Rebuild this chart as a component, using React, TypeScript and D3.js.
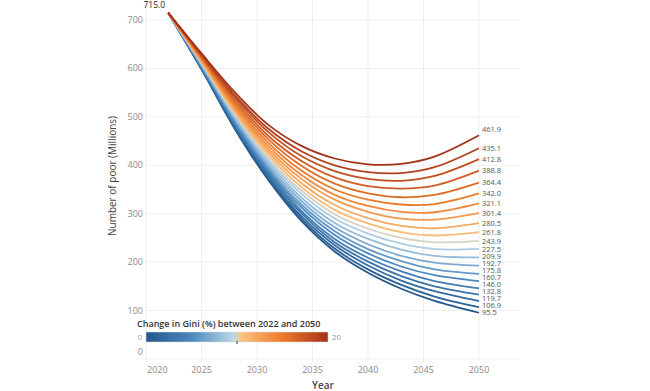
import React from 'react'
import * as d3 from 'd3'

// years, values in millions of poor people
const years = [2022, 2025, 2028, 2031, 2034, 2037, 2040, 2043, 2046, 2050]
const giniChange = [0, 1, 2, 3, 4, 5, 6, 7, 8, 9, 10, 11, 12, 13, 14, 15, 16, 17, 18, 19, 20]

const g00 = [715, 598, 475, 370, 285, 222, 178, 145, 120, 95.5]
const g01 = [715, 599, 477, 374, 290, 228, 185, 153, 129, 106.9]
const g02 = [715, 600, 480, 378, 295, 235, 193, 162, 140, 119.7]
const g03 = [715, 602, 483, 382, 301, 241, 201, 171, 150, 132.8]
const g04 = [715, 603, 485, 386, 306, 248, 209, 181, 161, 146.0]
const g05 = [715, 604, 489, 390, 313, 256, 218, 191, 173, 160.7]
const g06 = [715, 605, 492, 395, 319, 264, 227, 202, 185, 175.8]
const g07 = [715, 607, 495, 400, 326, 272, 237, 213, 199, 192.7]
const g08 = [715, 609, 499, 406, 333, 281, 248, 226, 213, 209.9]
const g09 = [715, 610, 502, 411, 341, 290, 259, 238, 227, 227.5]
const g10 = [715, 612, 506, 416, 348, 299, 269, 250, 241, 243.9]
const g11 = [715, 613, 509, 422, 355, 308, 280, 262, 255, 261.8]
const g12 = [715, 615, 513, 428, 363, 318, 291, 275, 270, 280.5]
const g13 = [715, 617, 518, 434, 372, 329, 304, 290, 288, 301.4]
const g14 = [715, 619, 522, 440, 380, 339, 316, 304, 303, 321.1]
const g15 = [715, 621, 526, 447, 389, 350, 329, 319, 320, 342.0]
const g16 = [715, 623, 531, 454, 399, 362, 342, 334, 339, 364.4]
const g17 = [715, 625, 536, 461, 409, 375, 357, 352, 358, 388.8]
const g18 = [715, 627, 541, 469, 419, 388, 372, 368, 378, 412.8]
const g19 = [715, 629, 545, 476, 429, 400, 386, 384, 396, 435.1]
const g20 = [715, 631, 551, 484, 440, 414, 402, 403, 418, 461.9]

const seriesValues = [g00, g01, g02, g03, g04, g05, g06, g07, g08, g09, g10,
  g11, g12, g13, g14, g15, g16, g17, g18, g19, g20]

const xTicks = [2020, 2025, 2030, 2035, 2040, 2045, 2050]
const yTicks = [0, 100, 200, 300, 400, 500, 600, 700]

const font = '"Open Sans", "Noto Sans", sans-serif'

export default function App() {
  const width = 650, height = 391

  const x = d3.scaleLinear().domain([2020, 2050]).range([146, 479])
  const y = d3.scaleLinear().domain([0, 700]).range([359, 20])

  // orange-blue diverging, split at the middle of the range
  const color = d3.scaleLinear<string>()
    .domain([0, 5, 9.5, 10, 10.5, 15, 20])
    .range(['#23578c', '#4b88bd', '#b9d5e9', '#d6d2c6', '#fbc27c', '#ec7a2b', '#a3321b'])
    .interpolate(d3.interpolateRgb)

  const line = d3.line<number>()
    .x((d, i) => x(years[i]))
    .y(d => y(d))
    .curve(d3.curveCatmullRom.alpha(0.5))

  const legendX = d3.scaleLinear().domain([0, 20]).range([146, 328])
  const gradStops = d3.range(0, 20.5, 0.5)

  // end labels: keep a small gap between neighbours, working up from the bottom
  const endVals = seriesValues.map(v => v[v.length - 1])
  const labelY: number[] = []
  endVals.forEach((v, i) => {
    let yy = y(v)
    if (i > 0 && labelY[i - 1] - yy < 7) yy = labelY[i - 1] - 7
    labelY.push(yy)
  })
  labelY[labelY.length - 1] -= 6

  return (
    <svg width={width} height={height} style={{ position: 'absolute', left: 0, top: 0 }}
      fontFamily={font}>
      <defs>
        <linearGradient id="giniGrad" x1="0" x2="1" y1="0" y2="0">
          {gradStops.map(s => (
            <stop key={s} offset={`${(s / 20) * 100}%`} stopColor={color(s)} />
          ))}
        </linearGradient>
      </defs>

      {/* grid */}
      <g stroke="#efefef" strokeWidth={1}>
        {yTicks.map(t => (
          <line key={'gy' + t} x1={146} x2={520} y1={y(t)} y2={y(t)} />
        ))}
        {xTicks.map(t => (
          <line key={'gx' + t} x1={x(t)} x2={x(t)} y1={0} y2={362} />
        ))}
      </g>

      {/* y axis labels */}
      <g fontSize={9} fill="#8a8a8a" textAnchor="end">
        {yTicks.map(t => (
          <text key={'ty' + t} x={143} y={t === 0 ? y(t) - 4 : y(t) + 3}>{t}</text>
        ))}
      </g>
      <text transform={`translate(116, 176) rotate(-90)`} textAnchor="middle"
        fontSize={10} fill="#444">Number of poor (Millions)</text>

      {/* x axis labels */}
      <g fontSize={9} fill="#8a8a8a">
        {xTicks.map(t => (
          <text key={'tx' + t} x={t === 2020 ? x(t) + 1 : x(t)} y={373}
            textAnchor={t === 2020 ? 'start' : 'middle'}>{t}</text>
        ))}
      </g>
      <text x={323} y={389} textAnchor="middle" fontSize={10} fontWeight={600} fill="#444">Year</text>

      {/* lines */}
      <g fill="none" strokeWidth={1.8}>
        {seriesValues.map((vals, i) => (
          <path key={'l' + i} d={line(vals) || ''} stroke={color(giniChange[i])} />
        ))}
      </g>

      {/* start label */}
      <text x={x(years[0]) - 3} y={y(g00[0]) - 5} textAnchor="end" fontSize={8.5} fill="#222">
        {g00[0].toFixed(1)}
      </text>

      {/* end labels */}
      <g fontSize={7.5} fill="#555">
        {endVals.map((v, i) => (
          <text key={'e' + i} x={x(2050) + 3} y={labelY[i] + 2.7}>{v.toFixed(1)}</text>
        ))}
      </g>

      {/* legend */}
      <text x={137} y={327} fontSize={9} fontWeight={600} fill="#333">
        Change in Gini (%) between 2022 and 2050
      </text>
      <rect x={legendX(0)} y={332} width={legendX(20) - legendX(0)} height={10}
        fill="url(#giniGrad)" stroke="#ddd" strokeWidth={0.5} />
      <line x1={legendX(10)} x2={legendX(10)} y1={341} y2={344} stroke="#333" strokeWidth={1} />
      <text x={legendX(0) - 4} y={340} textAnchor="end" fontSize={8} fill="#999">{giniChange[0]}</text>
      <text x={legendX(20) + 4} y={340} fontSize={8} fill="#999">{giniChange[giniChange.length - 1]}</text>
    </svg>
  )
}
